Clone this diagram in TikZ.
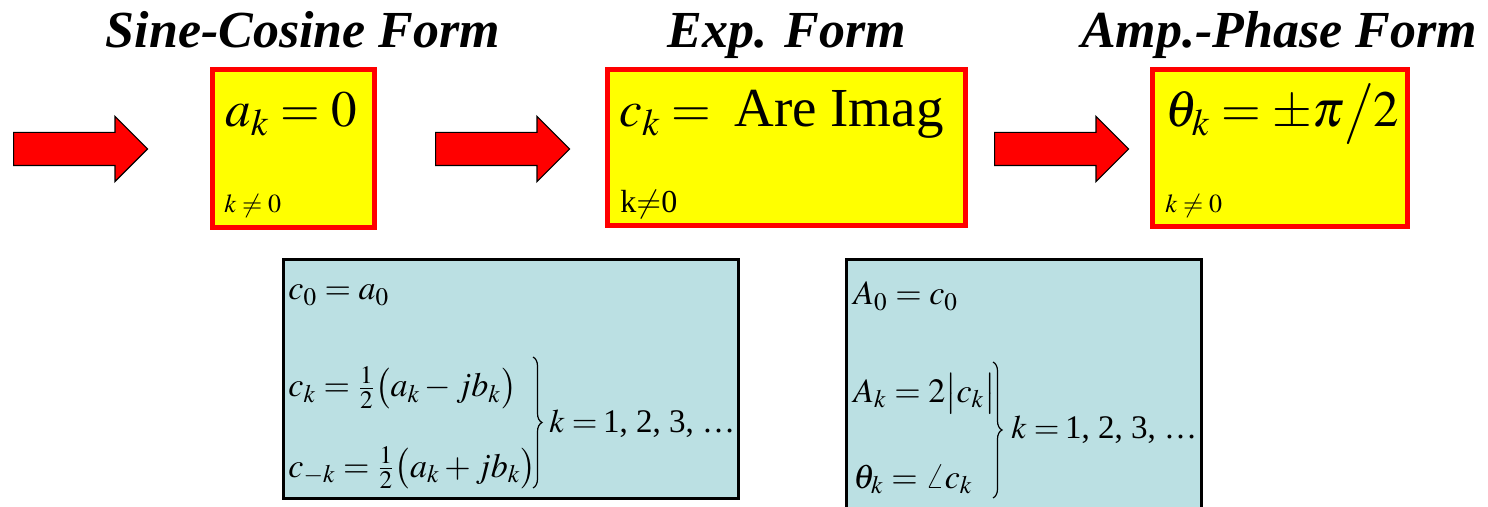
\documentclass[tikz,border=0pt]{standalone}
\usepackage{amsmath}
\usepackage{mathptmx}
\usepackage[no-math]{fontspec}
\setmainfont{Liberation Serif}
\usetikzlibrary{shapes.arrows,decorations.pathreplacing}
\definecolor{boxyellow}{RGB}{255,255,0}
\definecolor{boxred}{RGB}{255,0,0}
\definecolor{boxteal}{RGB}{187,224,227}
\begin{document}
\begin{tikzpicture}[x=0.5pt,y=-0.5pt,
  title/.style={font=\fontsize{26}{30}\selectfont\bfseries\itshape, anchor=base, inner sep=0pt},
  formbox/.style={draw=boxred, fill=boxyellow, line width=2.5pt, inner sep=0pt},
  relbox/.style={draw=black, fill=boxteal, line width=1.5pt, inner sep=0pt},
  bigeq/.style={font=\fontsize{25.5}{30}\selectfont, anchor=base west, inner sep=0pt},
  cond/.style={font=\fontsize{13}{15}\selectfont, anchor=base west, inner sep=0pt},
  releq/.style={font=\fontsize{17}{20}\selectfont, anchor=base west, inner sep=0pt},
  kfam/.style={font=\fontsize{16.5}{20}\selectfont, anchor=base west, inner sep=0pt},
  mathbrace/.style={decorate, decoration={brace, amplitude=4.5pt}, line width=0.6pt},
  fatarrow/.style={single arrow, draw=black, fill=boxred, line width=0.6pt,
    inner xsep=0pt, inner ysep=8pt, single arrow head extend=8pt, minimum height=67pt, anchor=tail}]
  \useasboundingbox (0,0) rectangle (1488,507);

  \node[title] (sctitle) at (303,48) {Sine-Cosine Form};
  \node[title] (exptitle) at (787,48) {Exp. Form};
  \node[title] (aptitle) at (1279,48) {Amp.-Phase Form};

  \node[fatarrow] (arr1) at (13,149) {};
  \node[fatarrow] (arr2) at (435,149) {};
  \node[fatarrow] (arr3) at (994,149) {};

  \node[formbox, minimum width=81pt, minimum height=79pt] (scbox) at (293.5,148.5) {};
  \node[formbox, minimum width=179pt, minimum height=78pt] (expbox) at (786.5,147.5) {};
  \node[formbox, minimum width=127.5pt, minimum height=78.5pt] (apbox) at (1280,148) {};

  \node[bigeq] (ak) at (225,127) {$a_k = 0$};
  \node[bigeq] (ck) at (619,127) {$c_k =$\hspace{0.45em}{\fontsize{27.5}{30}\selectfont Are Imag}};
  \node[bigeq] (thk) at (1165,127) {$\theta_k = \pm\pi\big/2$};
  \node[cond] (sck) at (224,213) {$k\neq0$};
  \node[cond, font=\fontsize{16}{18}\selectfont] (expk) at (620,213) {k$\neq$0};
  \node[cond] (apk) at (1165,213) {$k\neq0$};

  % relations between the forms
  \node[relbox, minimum width=227.5pt, minimum height=119.5pt] (ecbox) at (511,379) {};
  \node[fill=boxteal, inner sep=0pt, minimum width=177.5pt, minimum height=123.75pt] (eabox) at (1024,383.25) {};
  \draw[line width=1.5pt] (eabox.south west) -- (eabox.north west) -- (eabox.north east) -- (eabox.south east);

  \node[releq] (c0) at (288,300) {$c_0 = a_0$};
  \node[releq] (ckpos) at (288,397) {$c_k = \tfrac12\bigl(a_k - jb_k\bigr)$};
  \node[releq] (ckneg) at (288,477) {$c_{-k} = \tfrac12\bigl(a_k + jb_k\bigr)$};
  \coordinate (ectop) at (533,357);
  \coordinate (ecbot) at (533,488);
  \draw[mathbrace] (ectop) -- (ecbot);
  \node[kfam] (ecrange) at (549,432) {$k =$\,1, 2, 3, …};

  \node[releq] (A0) at (853,305) {$A_0 = c_0$};
  \node[releq] (Ak) at (853,402) {$A_k = 2\bigl|c_k\bigr|$};
  \node[releq] (thetak) at (853,488) {$\theta_k = \angle c_k$};
  \coordinate (eatop) at (993,362);
  \coordinate (eabot) at (993,498);
  \draw[mathbrace] (eatop) -- (eabot);
  \node[kfam] (earange) at (1011,438) {$k =$\,1, 2, 3, …};
\end{tikzpicture}
\end{document}
